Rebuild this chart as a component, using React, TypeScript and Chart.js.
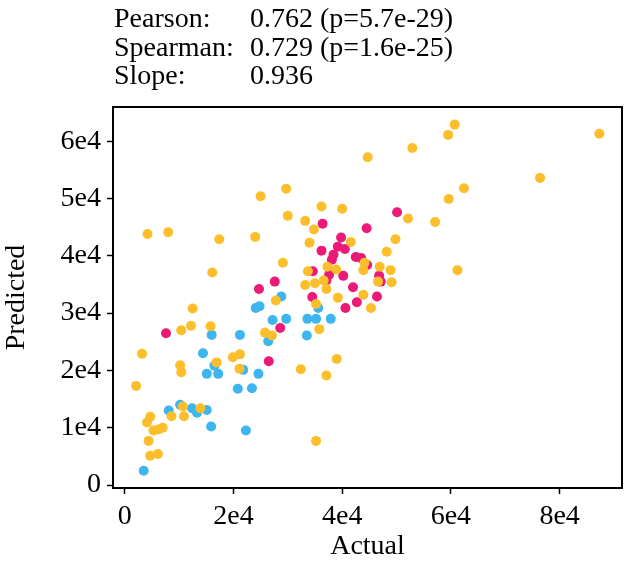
import React, { useEffect, useRef } from 'react';
import { Chart, registerables } from 'chart.js';

Chart.register(...registerables);

// ---- Data ----
const yellowActual = [4200, 8000, 17400, 24000, 25000, 29700, 30000, 29100, 16100, 44700, 36200, 40000, 33200, 34800, 34000, 41600, 44100, 37300, 38900, 33700, 33200, 35000, 36600, 37100, 43900, 39200, 35200, 45300, 52900, 59500, 60700, 87300, 76400, 62400, 59600, 52100, 57100, 49800, 48200, 46900, 48900, 43900, 49100, 46600, 61200, 27800, 25800, 27100, 35800, 39000, 32400, 37100, 35200, 12500, 12200, 10400, 15800, 3200, 2100, 10200, 10400, 16900, 19900, 21200, 21100, 8600, 10900, 10700, 13900, 4700, 4100, 5300, 6200, 7000, 4400, 4700, 6100];
const yellowPredicted = [43800, 44100, 42900, 43300, 50400, 51700, 47000, 38800, 37100, 57200, 48600, 48200, 46100, 44600, 42300, 42400, 38800, 38100, 37600, 37300, 34900, 35200, 35700, 34200, 33200, 32700, 31600, 30900, 58800, 61100, 62900, 61300, 53600, 51800, 49900, 46500, 45900, 42900, 40700, 38100, 37500, 37500, 35400, 35500, 37500, 32200, 26600, 26100, 27200, 22000, 20200, 19100, 7700, 30800, 27800, 27000, 27700, 22900, 17300, 20900, 19700, 21400, 22300, 22800, 20300, 12000, 12000, 13700, 13400, 11900, 10900, 9500, 9700, 10000, 7700, 5100, 5400];

const pinkActual = [7600, 26500, 28600, 24700, 27600, 34500, 42000, 42700, 40600, 46400, 47100, 46800, 34600, 37600, 37100, 40200, 44600, 42500, 43500, 38100, 38400, 36200, 39200, 40500, 39800, 36400, 44500, 50100];
const pinkPredicted = [26500, 21600, 27400, 34200, 35500, 32800, 34500, 31900, 30900, 32900, 35500, 36500, 37300, 36700, 35700, 36500, 38400, 39800, 39600, 39300, 40200, 40900, 41600, 41200, 43200, 45600, 44800, 47600];

const blueActual = [3500, 8100, 10200, 12400, 13300, 15100, 15900, 22300, 20800, 23400, 14400, 16500, 15100, 17200, 21800, 24600, 16000, 21200, 26400, 27200, 29700, 33600, 35200, 37900, 33500, 24100, 24800, 28800, 35600];
const bluePredicted = [2500, 13000, 14000, 13400, 12600, 13100, 10200, 9500, 16800, 16900, 23000, 20800, 19400, 19400, 20100, 19400, 26200, 26200, 25100, 28800, 29000, 29000, 29000, 29000, 26100, 30900, 31200, 32900, 30900];

const xTickValues = [0, 20000, 40000, 60000, 80000];
const xTickLabels = ['0', '2e4', '4e4', '6e4', '8e4'];
const yTickValues = [0, 10000, 20000, 30000, 40000, 50000, 60000];
const yTickLabels = ['0', '1e4', '2e4', '3e4', '4e4', '5e4', '6e4'];

const statLabels = ['Pearson:', 'Spearman:', 'Slope:'];
const statValues = ['0.762 (p=5.7e-29)', '0.729 (p=1.6e-25)', '0.936'];

const xAxisTitle = 'Actual';
const yAxisTitle = 'Predicted';

const X_MIN = -2150;
const X_MAX = 91470;
const Y_MIN = -520;
const Y_MAX = 65970;

const FONT_FAMILY = '"Liberation Serif", "DejaVu Serif", serif';
const FONT_SIZE = 28;

const YELLOW = '#FCBF2B';
const PINK = '#EB1A78';
const BLUE = '#3DB5EF';

const toPoints = (xs: number[], ys: number[]) => xs.map((x, i) => ({ x, y: ys[i] }));

const framePlugin = {
  id: 'frame',
  afterDatasetsDraw(chart: any) {
    const { ctx, chartArea } = chart;
    const { left, top, right, bottom } = chartArea;
    ctx.save();
    ctx.strokeStyle = '#000';
    ctx.lineWidth = 2;
    ctx.strokeRect(left, top, right - left, bottom - top);
    ctx.restore();
  },
};

export default function App() {
  const canvasRef = useRef<HTMLCanvasElement | null>(null);

  useEffect(() => {
    if (!canvasRef.current) return;
    const font = { family: FONT_FAMILY, size: FONT_SIZE };
    const chart = new Chart(canvasRef.current, {
      type: 'scatter',
      data: {
        datasets: [
          {
            data: toPoints(yellowActual, yellowPredicted),
            backgroundColor: YELLOW,
            borderWidth: 0,
            pointRadius: 5,
          },
          {
            data: toPoints(pinkActual, pinkPredicted),
            backgroundColor: PINK,
            borderWidth: 0,
            pointRadius: 5,
          },
          {
            data: toPoints(blueActual, bluePredicted),
            backgroundColor: BLUE,
            borderWidth: 0,
            pointRadius: 5,
          },
        ],
      },
      options: {
        animation: false,
        responsive: false,
        devicePixelRatio: 1,
        layout: { padding: { top: 107, right: 4, left: 0, bottom: 0 } },
        plugins: {
          legend: { display: false },
          tooltip: { enabled: false },
        },
        scales: {
          x: {
            type: 'linear',
            min: X_MIN,
            max: X_MAX,
            afterBuildTicks: (s: any) => {
              s.ticks = xTickValues.map((v) => ({ value: v }));
            },
            afterFit: (s: any) => {
              s.height = 75;
            },
            ticks: {
              callback: (_v: any, i: number) => xTickLabels[i],
              font,
              color: '#000',
              padding: 6,
              maxRotation: 0,
              autoSkip: false,
            },
            grid: {
              drawOnChartArea: false,
              drawTicks: true,
              tickLength: 6,
              tickColor: '#000',
              tickWidth: 1.5,
            },
            border: { display: false },
            title: { display: true, text: xAxisTitle, font, color: '#000', padding: 0 },
          },
          y: {
            type: 'linear',
            min: Y_MIN,
            max: Y_MAX,
            afterBuildTicks: (s: any) => {
              s.ticks = yTickValues.map((v) => ({ value: v }));
            },
            afterFit: (s: any) => {
              s.width = 113;
            },
            ticks: {
              callback: (_v: any, i: number) => yTickLabels[i],
              font,
              color: '#000',
              padding: 6,
              autoSkip: false,
            },
            grid: {
              drawOnChartArea: false,
              drawTicks: true,
              tickLength: 6,
              tickColor: '#000',
              tickWidth: 1.5,
            },
            border: { display: false },
            title: { display: true, text: yAxisTitle, font, color: '#000', padding: 0 },
          },
        },
      } as any,
      plugins: [framePlugin],
    });
    return () => chart.destroy();
  }, []);

  return (
    <div style={{ position: 'absolute', left: 0, top: 0, width: 627, height: 563, background: '#fff' }}>
      <canvas ref={canvasRef} width={627} height={563} style={{ position: 'absolute', left: 0, top: 0 }} />
      <div
        style={{
          position: 'absolute',
          left: 114,
          top: 4,
          fontFamily: FONT_FAMILY,
          fontSize: FONT_SIZE,
          lineHeight: '28.5px',
          color: '#000',
          whiteSpace: 'nowrap',
        }}
      >
        {statLabels.map((lab, i) => (
          <div key={lab} style={{ display: 'flex' }}>
            <span style={{ width: 136, display: 'inline-block' }}>{lab}</span>
            <span>{statValues[i]}</span>
          </div>
        ))}
      </div>
    </div>
  );
}
